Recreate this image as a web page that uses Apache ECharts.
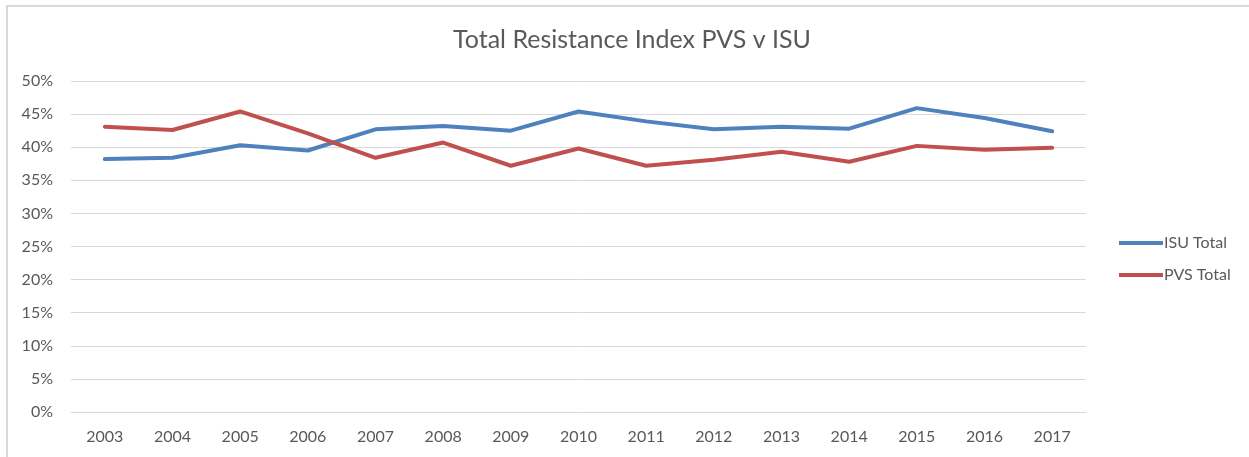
<!DOCTYPE html>
<html>
<head>
<meta charset="utf-8">
<script src="https://cdn.jsdelivr.net/npm/echarts@6/dist/echarts.min.js"></script>
<style>
  html, body { margin: 0; padding: 0; background: #fff; overflow: hidden; }
  #chart { width: 1249px; height: 457px; }
  #frame {
    position: absolute; left: 6px; top: 5px; width: 1260px; height: 470px;
    border-left: 2px solid #d9d9d9; border-top: 2px solid #d9d9d9; pointer-events: none;
  }
</style>
</head>
<body>
<div id="chart"></div>
<div id="frame"></div>
<script>
  // data
  var years = ['2003', '2004', '2005', '2006', '2007', '2008', '2009', '2010',
    '2011', '2012', '2013', '2014', '2015', '2016', '2017']
  var isuTotal = [38.2, 38.4, 40.3, 39.5, 42.7, 43.2, 42.5, 45.4,
    43.9, 42.7, 43.1, 42.8, 45.9, 44.4, 42.4]
  var pvsTotal = [43.1, 42.6, 45.4, 42.1, 38.4, 40.7, 37.2, 39.8,
    37.2, 38.1, 39.3, 37.8, 40.2, 39.6, 39.9]

  var font = 'Lato, "Open Sans", sans-serif'
  var chart = echarts.init(document.getElementById('chart'))
  chart.setOption({
    animation: false,
    textStyle: { fontFamily: font },
    title: {
      text: 'Total Resistance Index PVS v ISU',
      left: 627,
      textAlign: 'center',
      top: 22,
      textStyle: { fontFamily: font, fontSize: 25, fontWeight: 'normal', color: '#595959' },
    },
    legend: {
      orient: 'vertical',
      left: 1114,
      top: 230,
      itemWidth: 44,
      itemHeight: 4,
      itemGap: 16,
      icon: 'rect',
      textStyle: { fontFamily: font, fontSize: 16, color: '#595959', padding: [0, 0, 0, -4] },
      data: ['ISU Total', 'PVS Total'],
    },
    grid: { left: 71, right: 163, top: 81, bottom: 45, containLabel: false },
    xAxis: {
      type: 'category',
      data: years,
      boundaryGap: true,
      axisLine: { lineStyle: { color: '#d9d9d9', width: 1 } },
      axisTick: { show: false },
      axisLabel: { fontFamily: font, fontSize: 16, color: '#595959', margin: 17 },
    },
    yAxis: {
      type: 'value',
      min: 0,
      max: 50,
      interval: 5,
      axisLine: { show: false },
      axisTick: { show: false },
      axisLabel: { fontFamily: font, fontSize: 16, color: '#595959', formatter: '{value}%', margin: 18 },
      splitLine: { lineStyle: { color: '#d9d9d9', width: 1 } },
    },
    series: [
      {
        name: 'ISU Total',
        type: 'line',
        data: isuTotal,
        symbol: 'none',
        lineStyle: { width: 4, color: '#4f81bd', cap: 'round', join: 'round' },
        itemStyle: { color: '#4f81bd' },
      },
      {
        name: 'PVS Total',
        type: 'line',
        data: pvsTotal,
        symbol: 'none',
        lineStyle: { width: 4, color: '#c0504d', cap: 'round', join: 'round' },
        itemStyle: { color: '#c0504d' },
      },
    ],
  })
</script>
</body>
</html>
